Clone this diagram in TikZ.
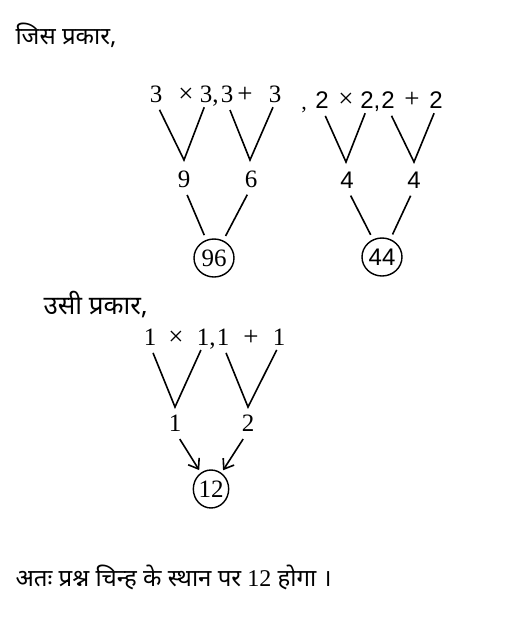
\documentclass[tikz,border=0pt]{standalone}
\usepackage{fontspec}
\setmainfont{Liberation Serif}
\newfontfamily\hindi[Script=Devanagari]{Noto Sans}
\newfontfamily\plainsans{Liberation Sans}
\usetikzlibrary{arrows.meta}
\usetikzlibrary{shapes.geometric}

\begin{document}
\begin{tikzpicture}[x=1pt,y=-1pt,
    num/.style={inner sep=0pt,font=\fontsize{25}{30}\selectfont},
    op/.style={inner sep=0pt,anchor=base,font=\fontsize{27}{30}\selectfont},
    sep/.style={inner sep=0pt,anchor=base,font=\fontsize{22}{26}\selectfont},
    vline/.style={line width=1.6pt,shorten <=8pt,shorten >=5pt},
    ring/.style={ellipse,draw,line width=1.4pt,inner sep=0pt,minimum width=40pt,minimum height=38pt,font=\fontsize{25}{30}\selectfont},
    arr/.style={line width=1.6pt,-{Straight Barb[length=9pt,width=13pt]},shorten <=9pt,shorten >=3pt}]

      \useasboundingbox (0,0) rectangle (509,618);

      \node[anchor=west,font=\hindi\fontsize{24}{28}\selectfont] (head1) at (12,35) {जिस प्रकार,};

      % 3 x 3, 3 + 3
      \foreach \x/\n in {156/1,227/3,275/4}
        \node[num] (a\n) at (\x,94) {3};
      \node[num] (a2) at (206,94) {3\rlap{\smash{,}}};
      \node[op] (ax) at (186,102.5) {×};
      \node[op] (ap) at (245,102.5) {+};

      % 2 x 2, 2 + 2
      \node[sep] (bk) at (304,109) {,};
      \foreach \x/\n in {322/1,388/3,436/4}
        \node[num,font=\plainsans\fontsize{24}{28}\selectfont] (b\n) at (\x,100) {2};
      \node[num,font=\plainsans\fontsize{24}{28}\selectfont] (b2) at (367,100) {2\rlap{\smash{,}}};
      \node[op] (bx) at (346,107) {×};
      \node[op] (bp) at (412,107.5) {+};

      \coordinate (va1) at (184,160);
      \coordinate (va2) at (250,160);
      \coordinate (vb1) at (346,162);
      \coordinate (vb2) at (414,162);

      \draw[vline] (a1.south) -- (va1) -- (a2.south);
      \draw[vline] (a3.south) -- (va2) -- (a4.south);
      \draw[vline] (b1.south) -- (vb1) -- (b2.south);
      \draw[vline] (b3.south) -- (vb2) -- (b4.south);

      \node[num] (ra1) at (184,179) {9};
      \node[num] (ra2) at (251,179) {6};
      \node[num,font=\plainsans\fontsize{24}{28}\selectfont] (rb1) at (347,180) {4};
      \node[num,font=\plainsans\fontsize{24}{28}\selectfont] (rb2) at (414,180) {4};

      \node[ring] (ta) at (214,258) {96};
      \node[ring,font=\plainsans\fontsize{24}{28}\selectfont] (tb) at (382,257) {44};

      \draw[vline] (ra1.south) -- (ta);
      \draw[vline] (ra2.south) -- (ta);
      \draw[vline] (rb1.south) -- (tb);
      \draw[vline] (rb2.south) -- (tb);

      \node[anchor=west,font=\hindi\fontsize{26}{30}\selectfont] (head2) at (40,305) {उसी प्रकार,};

      % 1 x 1, 1 + 1
      \foreach \x/\n in {150/1,223/3,279/4}
        \node[num] (c\n) at (\x,337) {1};
      \node[num] (c2) at (203,337) {1\rlap{\smash{,}}};
      \node[op] (cx) at (176,345.5) {×};
      \node[op] (cp) at (251,345.5) {+};

      \coordinate (vc1) at (175,407);
      \coordinate (vc2) at (248,407);
      \draw[vline] (c1.south) -- (vc1) -- (c2.south);
      \draw[vline] (c3.south) -- (vc2) -- (c4.south);

      \node[num] (rc1) at (175,423) {1};
      \node[num] (rc2) at (248,423) {2};
      \node[ring,minimum width=34pt] (tc) at (211,489) {12};

      \draw[arr] (rc1.south) -- (tc);
      \draw[arr] (rc2.south) -- (tc);

      \node[anchor=west,font=\hindi\fontsize{24}{28}\selectfont] (foot) at (12,577) {अतः प्रश्न चिन्ह के स्थान पर {\rmfamily 12} होगा ।};
    \end{tikzpicture}
\end{document}
